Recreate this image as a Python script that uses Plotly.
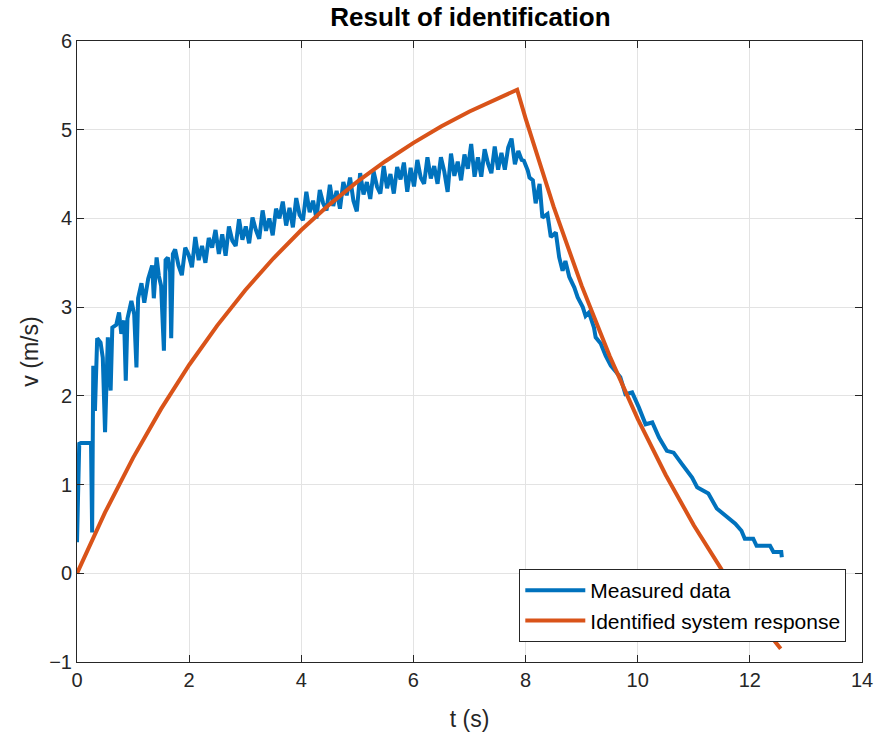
import plotly.graph_objects as go

t_meas = [0.00, 0.02, 0.04, 0.07, 0.10, 0.25, 0.27, 0.29, 0.32, 0.36, 0.42, 0.46, 0.50, 0.55, 0.60,
          0.63, 0.70, 0.75, 0.79, 0.84, 0.87, 0.90, 0.97, 1.02, 1.06, 1.09, 1.15, 1.20, 1.27, 1.34,
          1.37, 1.42, 1.46, 1.50, 1.55, 1.58, 1.62, 1.66, 1.68, 1.71,
          1.75, 1.81, 1.87, 1.93, 1.99, 2.05, 2.11, 2.17, 2.23, 2.29, 2.35, 2.41, 2.47, 2.53, 2.59,
          2.65, 2.71, 2.77, 2.83, 2.89, 2.95, 3.01, 3.07, 3.13, 3.19, 3.25, 3.31, 3.37, 3.43, 3.49,
          3.55, 3.61, 3.67, 3.73, 3.79, 3.85, 3.91, 3.97, 4.03, 4.09, 4.15, 4.21, 4.27, 4.33, 4.39,
          4.45, 4.51, 4.57, 4.63, 4.69, 4.75, 4.81, 4.87, 4.93, 4.99, 5.05, 5.11, 5.17, 5.23, 5.29,
          5.35, 5.41, 5.47, 5.53, 5.59, 5.65, 5.71, 5.77, 5.83, 5.89, 5.95, 6.01, 6.07, 6.13, 6.19,
          6.25, 6.31, 6.37, 6.43, 6.49, 6.55, 6.61, 6.67, 6.73, 6.79, 6.85, 6.91, 6.97, 7.03, 7.09,
          7.15, 7.21, 7.27, 7.33, 7.39, 7.45, 7.51, 7.57, 7.63, 7.69, 7.75, 7.81, 7.87, 7.93, 7.97,
          8.04, 8.07, 8.13, 8.18, 8.25, 8.30, 8.39, 8.45, 8.54, 8.60, 8.66, 8.71, 8.78, 8.87, 8.93,
          9.02, 9.07, 9.13, 9.22, 9.25, 9.34, 9.43, 9.52, 9.60, 9.69, 9.78, 9.90, 10.02, 10.14, 10.26,
          10.38, 10.52, 10.64, 10.79, 10.88, 10.97, 11.06, 11.26, 11.41, 11.59, 11.74, 11.85, 11.91,
          12.06, 12.12, 12.36, 12.42, 12.56, 12.57]
v_meas = [0.35, 0.90, 1.46, 1.47, 1.47, 1.47, 0.46, 2.34, 1.83, 2.65, 2.60, 2.43, 1.59, 2.66, 2.06,
          2.77, 2.80, 2.94, 2.70, 2.85, 2.17, 2.87, 3.07, 2.92, 2.32, 3.10, 3.27, 3.05, 3.32, 3.47,
          3.10, 3.56, 3.35, 3.24, 2.51, 3.53, 3.56, 3.40, 2.65, 3.60,
          3.65, 3.47, 3.36, 3.67, 3.59, 3.45, 3.79, 3.53, 3.69, 3.50, 3.78, 3.67, 3.87, 3.60, 3.82,
          3.58, 3.91, 3.75, 3.69, 3.99, 3.76, 3.91, 3.72, 4.01, 3.87, 3.77, 4.09, 3.86, 4.00, 3.81,
          4.11, 4.00, 4.19, 3.92, 4.12, 3.90, 4.23, 4.04, 3.98, 4.30, 4.07, 4.20, 4.00, 4.32, 4.17,
          4.09, 4.38, 4.14, 4.31, 4.11, 4.41, 4.26, 4.46, 4.20, 4.08, 4.51, 4.27, 4.41, 4.22, 4.53,
          4.36, 4.28, 4.59, 4.34, 4.50, 4.28, 4.58, 4.44, 4.63, 4.30, 4.57, 4.36, 4.66, 4.46, 4.39,
          4.69, 4.45, 4.59, 4.39, 4.69, 4.53, 4.30, 4.73, 4.48, 4.64, 4.43, 4.72, 4.56, 4.84, 4.47,
          4.69, 4.47, 4.78, 4.62, 4.51, 4.81, 4.55, 4.74, 4.55, 4.80, 4.90, 4.61, 4.76, 4.66, 4.65,
          4.54, 4.46, 4.43, 4.17, 4.39, 4.01, 4.05, 3.79, 3.84, 3.56, 3.41, 3.52, 3.34, 3.22, 3.11,
          3.00, 2.90, 2.94, 2.77, 2.66, 2.59, 2.45, 2.34, 2.28, 2.21, 2.02, 2.04, 1.87, 1.68, 1.70,
          1.53, 1.38, 1.36, 1.23, 1.16, 1.08, 0.97, 0.90, 0.73, 0.63, 0.56, 0.48, 0.39,
          0.39, 0.31, 0.31, 0.24, 0.24, 0.18]

# Identified system response
t_ident = [0.0, 0.5, 1.0, 1.5, 2.0, 2.5, 3.0, 3.5, 4.0, 4.5, 5.0, 5.5, 6.0, 6.5, 7.0, 7.5, 7.85,
           8.0, 8.5, 9.0, 9.5, 10.0, 10.5, 11.0, 11.5, 12.0, 12.55]
v_ident = [0.0, 0.686, 1.301, 1.853, 2.348, 2.792, 3.190, 3.548, 3.869, 4.156, 4.414, 4.645, 4.852,
           5.039, 5.206, 5.355, 5.451,
           5.128, 4.132, 3.242, 2.448, 1.740, 1.108, 0.542, 0.038, -0.412, -0.85]

FONT = "Liberation Sans, Arial, Helvetica, sans-serif"

fig = go.Figure()
fig.add_trace(go.Scatter(x=t_meas, y=v_meas, mode="lines", name="Measured data",
                         line=dict(color="#0072BD", width=4)))
fig.add_trace(go.Scatter(x=t_ident, y=v_ident, mode="lines", name="Identified system response",
                         line=dict(color="#D95319", width=4)))

axis_common = dict(showline=True, linecolor="#262626", linewidth=1, mirror="ticks",
                   ticks="inside", ticklen=7, tickcolor="#262626",
                   showgrid=True, gridcolor="#e3e3e3", gridwidth=1, zeroline=False,
                   automargin=False,
                   tickfont=dict(family=FONT, size=20, color="#262626"))

fig.update_layout(
    width=881, height=744,
    margin=dict(l=77, r=19, t=41, b=82, autoexpand=False),
    paper_bgcolor="white", plot_bgcolor="white",
    title=dict(text="<b>Result of identification</b>", x=0.534, xanchor="center",
               y=0.977, yanchor="middle",
               font=dict(family=FONT, size=26, color="black")),
    xaxis=dict(range=[0, 14], dtick=2, tick0=0,
               title=dict(text="t (s)", font=dict(family=FONT, size=23, color="#262626"), standoff=20),
               **axis_common),
    yaxis=dict(range=[-1, 6], dtick=1, tick0=0,
               title=dict(text="v (m/s)", font=dict(family=FONT, size=23, color="#262626"), standoff=4),
               **axis_common),
    legend=dict(x=0.98, y=0.032, xanchor="right", yanchor="bottom",
                bgcolor="white", bordercolor="#262626", borderwidth=1,
                font=dict(family=FONT, size=21, color="black"),
                itemwidth=60, tracegroupgap=2),
    showlegend=True,
)

fig.write_html("out.html")
